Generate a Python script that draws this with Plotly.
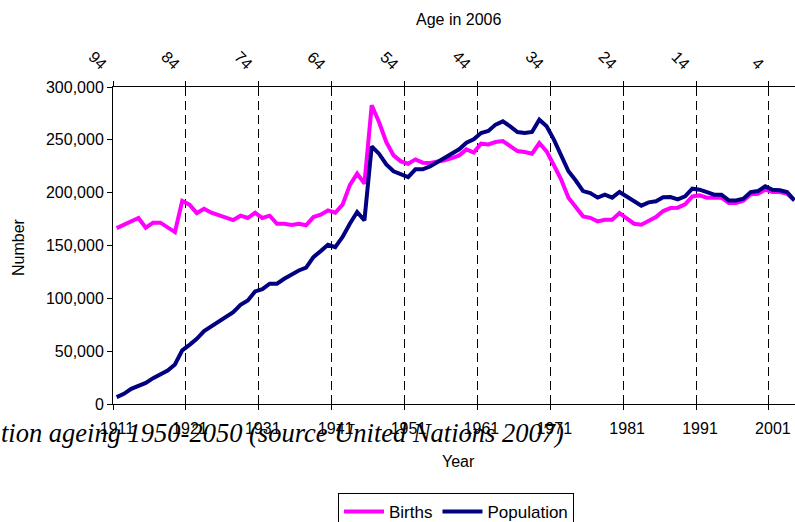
import plotly.graph_objects as go

# ---------------- data ----------------
years = list(range(1911, 2005))

births = [
    166.5, 169.7, 173.8, 176.0, 166.8, 171.6, 171.6, 167.5, 162.7, 192.1,   # 1911-1920
    188.6, 180.7, 184.8, 181.0, 178.5, 176.3, 174.1, 178.2, 176.0, 181.0,   # 1921-1930
    176.0, 178.2, 170.6, 170.6, 169.4, 170.6, 169.1, 176.9, 179.1, 183.2,   # 1931-1940
    181.0, 188.6, 207.2, 218.0, 208.5, 282.7, 266.9, 247.9, 235.3, 229.6,   # 1941-1950
    227.4, 231.5, 228.4, 228.1, 229.0, 230.6, 232.8, 235.3, 241.0, 237.9,   # 1951-1960
    246.4, 245.7, 247.9, 248.9, 244.1, 239.4, 238.4, 236.9, 247.0, 239.1,   # 1961-1970
    225.9, 212.3, 195.3, 186.0, 177.6, 176.2, 172.8, 174.4, 174.4, 180.7,   # 1971-1980
    175.4, 170.6, 169.7, 173.1, 176.9, 182.6, 185.4, 185.8, 188.9, 196.5,   # 1981-1990
    197.4, 195.3, 195.3, 195.3, 190.2, 190.2, 192.4, 198.4, 199.0, 202.8,   # 1991-2000
    200.6, 200.6, 199.0, 192.7,                                             # 2001-2004
]
births = [v * 1000 for v in births]

population = [
    6.5, 9.6, 14.4, 17.5, 20.0, 24.5, 27.6, 31.7, 37.4, 50.7,              # 1911-1920
    56.0, 61.7, 69.0, 73.4, 77.2, 82.2, 86.9, 93.9, 98.0, 106.5,           # 1921-1930
    108.7, 113.8, 113.8, 118.5, 122.3, 126.4, 129.0, 139.0, 144.7, 150.7,  # 1931-1940
    148.5, 158.0, 170.6, 181.7, 173.8, 243.8, 236.9, 226.8, 220.2, 217.0,  # 1941-1950
    214.8, 222.1, 222.1, 224.9, 229.0, 233.1, 237.9, 241.0, 247.3, 250.5,  # 1951-1960
    256.5, 258.3, 264.4, 267.5, 262.8, 257.4, 256.5, 257.4, 269.1, 262.8,  # 1961-1970
    250.2, 235.3, 220.2, 211.5, 201.5, 199.6, 195.3, 198.1, 195.3, 200.6,  # 1971-1980
    196.5, 192.1, 187.7, 190.8, 191.8, 195.6, 195.9, 193.7, 196.5, 203.8,  # 1981-1990
    202.8, 200.6, 198.1, 198.1, 192.7, 192.7, 194.3, 200.6, 201.5, 206.0,  # 1991-2000
    202.8, 202.2, 200.6, 192.7,                                            # 2001-2004
]
population = [v * 1000 for v in population]

label_years = list(range(1911, 2005, 10))
ages = [94, 84, 74, 64, 54, 44, 34, 24, 14, 4]

# ---------------- layout geometry ----------------
W, H = 795, 522
L, T, R, B = 113, 87, 0, 118
PW, PH = W - L - R, H - T - B
YEAR_PX = 7.2875  # px per year (category width)
x_range = [years[0] - 0.5, years[0] - 0.5 + PW / YEAR_PX]
# ticks / gridlines sit on category boundaries, labels centred in the category
tick_pos = [y - 0.5 for y in label_years]


def pxx(px):
    return (px - L) / PW


def pxy(py):
    return (H - B - py) / PH


FONT = "Liberation Sans, Arial, sans-serif"

fig = go.Figure()
fig.add_trace(go.Scatter(x=years, y=births, mode="lines", name="Births",
                         line=dict(color="#FF00FF", width=4)))
fig.add_trace(go.Scatter(x=years, y=population, mode="lines", name="Population",
                         line=dict(color="#000080", width=4)))

annotations = []
# top axis labels (age in 2006)
for a in ages:
    tick_year = 2005 - a
    tick_px = L + (tick_year - years[0]) * YEAR_PX
    label = str(a)
    cx = tick_px - (15 if len(label) == 2 else 10.5)
    cy = 60 if len(label) == 2 else 63
    annotations.append(dict(text=label, xref="paper", yref="paper",
                            x=pxx(cx), y=pxy(cy), xanchor="center", yanchor="middle",
                            textangle=45, showarrow=False,
                            font=dict(family=FONT, size=16, color="black")))
annotations.append(dict(text="Age in 2006", xref="paper", yref="paper",
                        x=pxx(459), y=pxy(19), xanchor="center", yanchor="middle",
                        showarrow=False, font=dict(family=FONT, size=16, color="black")))
annotations.append(dict(text="Year", xref="paper", yref="paper",
                        x=pxx(458), y=pxy(461), xanchor="center", yanchor="middle",
                        showarrow=False, font=dict(family=FONT, size=16, color="black")))
annotations.append(dict(text="Number", xref="paper", yref="paper",
                        x=pxx(18), y=pxy(247), xanchor="center", yanchor="middle",
                        textangle=-90, showarrow=False,
                        font=dict(family=FONT, size=16, color="black")))
annotations.append(dict(text="<i>tion ageing 1950-2050 (source United Nations 2007)</i>",
                        xref="paper", yref="paper",
                        x=pxx(-1), y=pxy(433), xanchor="left", yanchor="middle",
                        showarrow=False,
                        font=dict(family="Liberation Serif, Times New Roman, serif",
                                  size=26.5, color="black")))

fig.update_layout(
    width=W, height=H,
    margin=dict(l=L, r=R, t=T, b=B, pad=0, autoexpand=False),
    paper_bgcolor="white", plot_bgcolor="white",
    font=dict(family=FONT, size=16, color="black"),
    showlegend=True,
    legend=dict(orientation="h", x=pxx(338), y=pxy(493), xanchor="left", yanchor="top",
                bordercolor="black", borderwidth=1, bgcolor="white", itemwidth=40,
                font=dict(family=FONT, size=17, color="black")),
    annotations=annotations,
)

fig.update_xaxes(
    type="linear", range=x_range, automargin=False,
    tickmode="array", tickvals=tick_pos, ticktext=[str(y) for y in label_years],
    tickangle=0, ticklabelshift=4, ticklabelstandoff=5,
    ticks="outside", ticklen=5, tickcolor="black", tickwidth=1,
    showline=True, linecolor="black", linewidth=1, mirror="ticks",
    showgrid=True, gridcolor="black", gridwidth=1, griddash="9px,5px",
    zeroline=False,
    tickfont=dict(family=FONT, size=16, color="black"),
)
fig.update_yaxes(
    range=[0, 300000], automargin=False,
    tickmode="linear", tick0=0, dtick=50000, tickformat=",",
    ticks="outside", ticklen=5, tickcolor="black", tickwidth=1,
    showline=True, linecolor="black", linewidth=1,
    showgrid=False, zeroline=False,
    tickfont=dict(family=FONT, size=16, color="black"),
)

fig.write_html("out.html", config={"displayModeBar": False},
               post_script="document.body.style.margin='0';document.body.style.overflow='hidden';")
